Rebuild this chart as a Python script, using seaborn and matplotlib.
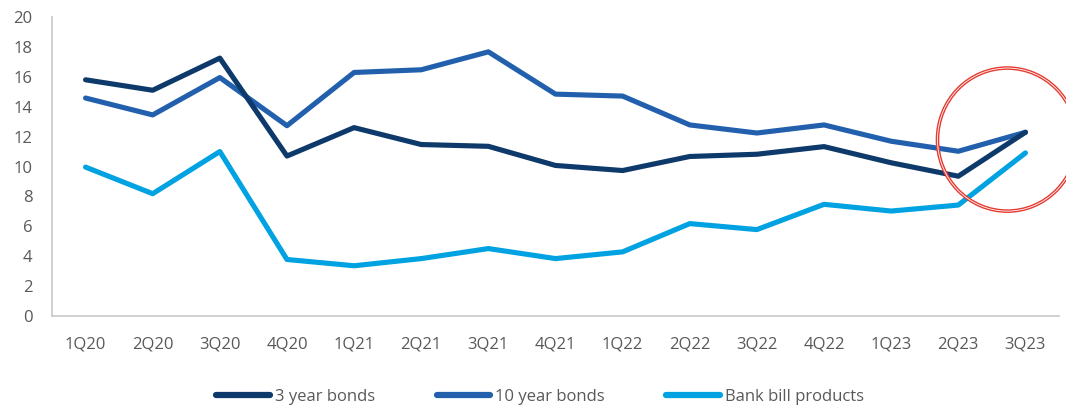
import numpy as np
import pandas as pd
import matplotlib
matplotlib.use("Agg")
import matplotlib.pyplot as plt
from matplotlib.patches import Ellipse
import seaborn as sns

quarters = ["1Q20", "2Q20", "3Q20", "4Q20", "1Q21", "2Q21", "3Q21", "4Q21",
            "1Q22", "2Q22", "3Q22", "4Q22", "1Q23", "2Q23", "3Q23"]
bonds_3y = [15.8, 15.1, 17.25, 10.7, 12.6, 11.47, 11.35, 10.07, 9.73, 10.67,
            10.82, 11.33, 10.25, 9.35, 12.29]
bonds_10y = [14.58, 13.45, 15.95, 12.73, 16.29, 16.47, 17.67, 14.84, 14.71,
             12.78, 12.24, 12.78, 11.69, 11.02, 12.29]
bank_bill = [9.96, 8.18, 11.0, 3.78, 3.36, 3.84, 4.51, 3.84, 4.29, 6.18,
             5.78, 7.47, 7.02, 7.42, 10.91]
series_names = ["3 year bonds", "10 year bonds", "Bank bill products"]
y_ticks = [0, 2, 4, 6, 8, 10, 12, 14, 16, 18, 20]

colors = ["#0E3A6B", "#2260AD", "#00A2E1"]
text_color = "#595959"

sns.set_theme(style="white")
plt.rcParams["font.family"] = ["Open Sans", "DejaVu Sans"]

df = pd.DataFrame({
    "quarter": quarters * 3,
    "x": list(range(len(quarters))) * 3,
    "value": bonds_3y + bonds_10y + bank_bill,
    "series": [series_names[0]] * len(quarters) + [series_names[1]] * len(quarters)
              + [series_names[2]] * len(quarters),
})

fig = plt.figure(figsize=(10.66, 4.08), dpi=100)
ax = fig.add_axes([52 / 1066, 1 - 316 / 408, (1059 - 52) / 1066, (316 - 17) / 408])

sns.lineplot(data=df, x="x", y="value", hue="series", hue_order=series_names,
             palette=colors, linewidth=3.7, ax=ax, legend=True,
             solid_capstyle="round")

# draw order: dark line on top
zs = {series_names[0]: 5, series_names[1]: 4, series_names[2]: 3}
for line, name in zip(ax.lines, series_names):
    line.set_zorder(zs[name])

handles, labels = ax.get_legend_handles_labels()
ax.get_legend().remove()
for h in handles:
    h.set_linewidth(4.5)
    h.set_solid_capstyle("round")

ax.set_xlim(-0.5, len(quarters) - 0.5)
ax.set_ylim(0, 20)
ax.set_xticks(range(len(quarters)))
ax.set_xticklabels(quarters)
ax.set_yticks(y_ticks)
ax.set_xlabel("")
ax.set_ylabel("")
ax.tick_params(axis="both", length=0, labelsize=12, colors=text_color)
ax.tick_params(axis="x", pad=15)
ax.tick_params(axis="y", pad=14)
for s in ["top", "right"]:
    ax.spines[s].set_visible(False)
for s in ["left", "bottom"]:
    ax.spines[s].set_color("#C8C8C8")
    ax.spines[s].set_linewidth(1.2)

# red highlight circle (double ring)
e1 = Ellipse((13.73, 11.8), 2.08, 9.57, fill=False, edgecolor="#E53A30",
             linewidth=2.6, clip_on=False, zorder=6)
e2 = Ellipse((13.73, 11.8), 2.08, 9.57, fill=False, edgecolor="white",
             linewidth=0.6, clip_on=False, zorder=7)
ax.add_patch(e1)
ax.add_patch(e2)

leg = fig.legend(handles, labels, loc="center", ncol=3,
                 bbox_to_anchor=(540 / 1066, 1 - 397 / 408), frameon=False,
                 fontsize=12, handlelength=3.2, handletextpad=0.3,
                 columnspacing=3.7, labelcolor=text_color)

fig.savefig("out.png", dpi=100)
